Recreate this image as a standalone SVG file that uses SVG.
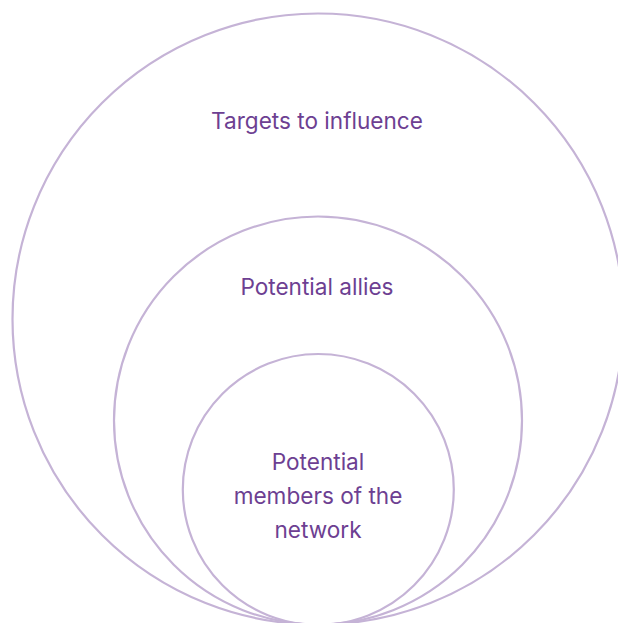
<svg xmlns="http://www.w3.org/2000/svg" width="618" height="623" viewBox="0 0 618 623">
<style>
.ring{fill:none;stroke:#c5b3d6;stroke-width:2.2}
.lbl{font-family:Inter,"Liberation Sans",sans-serif;font-size:22.6px;fill:#6d3f92;text-anchor:middle}
</style>
<rect width="618" height="623" fill="#ffffff"/>
<g id="outer"><circle class="ring" cx="318" cy="319" r="305.5"/><text class="lbl" x="317" y="129">Targets to influence</text></g>
<g id="middle"><circle class="ring" cx="318" cy="420.5" r="204"/><text class="lbl" x="317" y="295">Potential allies</text></g>
<g id="inner"><circle class="ring" cx="318.3" cy="489.5" r="135.5"/><text class="lbl" x="318" y="470">Potential</text><text class="lbl" x="318" y="504">members of the</text><text class="lbl" x="318" y="538">network</text></g>
<g id="connectors"/>
</svg>
